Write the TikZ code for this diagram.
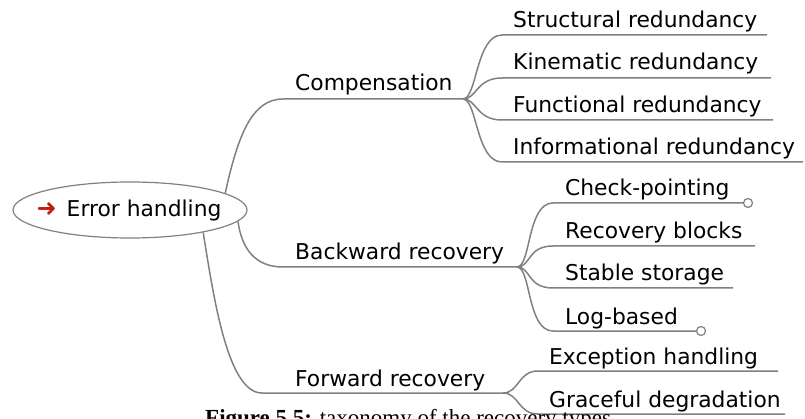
\documentclass[tikz,border=0pt]{standalone}
\usepackage{fontspec}
\setmainfont{DejaVu Sans}
\newfontfamily\captionserif{Liberation Serif}
\usetikzlibrary{shapes.geometric,calc,backgrounds}
\definecolor{branchgray}{HTML}{808080}
\definecolor{arrowred}{HTML}{BE1E14}

\begin{document}
\begin{tikzpicture}[x=1pt,y=-1pt,
  every node/.style={font=\fontsize{21.8}{26}\selectfont, inner sep=0pt, text=black},
  topic/.style={anchor=base west},
  link/.style={draw=branchgray, line width=1.5pt},
  rootbox/.style={ellipse, draw=branchgray, line width=1.2pt, fill=white,
    minimum width=234pt, minimum height=56pt},
  endmark/.style={circle, draw=branchgray, fill=white, line width=1.2pt,
    minimum size=9pt}]
\useasboundingbox (0,0) rectangle (805,419);

% ---------- root: outline and label ----------
\node[rootbox] (root) at (130,210) {};
\node (roottext) at (129,210) {{\color{arrowred}\fontsize{24}{26}\selectfont ➜}\hspace{10pt}Error handling};

% ---------- main branches ----------
\node[topic] (comp) at (295,91) {Compensation};
\node[topic] (back) at (295,260) {Backward recovery};
\node[topic] (fwd)  at (295,386) {Forward recovery};

\coordinate (compIn)  at (283,99);
\coordinate (backIn)  at (283,267);
\coordinate (fwdIn)   at (262,393);
\coordinate (compOut) at (463,99);
\coordinate (backOut) at (517,267);
\coordinate (fwdOut)  at (503,393);

% ---------- leaves ----------
\node[topic] (struct) at (513,28)  {Structural redundancy};
\node[topic] (kine)   at (513,70)  {Kinematic redundancy};
\node[topic] (func)   at (513,113) {Functional redundancy};
\node[topic] (info)   at (513,155) {Informational redundancy};

\node[topic] (check)  at (565,196) {Check-pointing};
\node[topic] (rblock) at (565,239) {Recovery blocks};
\node[topic] (stable) at (565,281) {Stable storage};
\node[topic] (logb)   at (565,324) {Log-based};

\node[topic] (exc)    at (549,364) {Exception handling};
\node[topic] (grace)  at (549,407) {Graceful degradation};

\coordinate (structIn) at (502,35);
\coordinate (kineIn)   at (502,78);
\coordinate (funcIn)   at (502,120);
\coordinate (infoIn)   at (502,162);
\coordinate (checkIn)  at (553,203);
\coordinate (rblockIn) at (553,246);
\coordinate (stableIn) at (553,288);
\coordinate (logbIn)   at (553,331);
\coordinate (excIn)    at (538,371);
\coordinate (graceIn)  at (538,414);

% connectors from the root to the main branches, behind the root outline
\begin{scope}[on background layer]
  \draw[link] (root.10) .. controls (238,135) and (252,99) .. (compIn) -- (compOut);
  \draw[link] (root.-6) .. controls (242,250) and (256,267) .. (backIn) -- (backOut);
  \draw[link] (root.-17) .. controls (214,300) and (228,393) .. (fwdIn) -- (fwdOut);
\end{scope}

% connectors from the branches to the leaves
\foreach \leaf/\stop in {struct/767, kine/771, func/773, info/803}
  \draw[link] (compOut) .. controls +(14,0) and +(-26,0) .. (\leaf In) -- (\stop,0 |- \leaf In);
\foreach \leaf/\stop in {check/744, rblock/755, stable/733, logb/697}
  \draw[link] (backOut) .. controls +(14,0) and +(-26,0) .. (\leaf In) -- (\stop,0 |- \leaf In);
\foreach \leaf/\stop in {exc/778, grace/785}
  \draw[link] (fwdOut) .. controls +(16,0) and +(-20,0) .. (\leaf In) -- (\stop,0 |- \leaf In);

% open end markers
\node[endmark] (checkEnd) at (748,203) {};
\node[endmark] (logbEnd)  at (701,331) {};

% caption, cut off by the lower edge
\begin{scope}
  \clip (0,0) rectangle (805,419);
  \node[anchor=base west, font=\captionserif\fontsize{23}{27}\selectfont] (caption) at (205,425)
    {\textbf{Figure 5.5:} taxonomy of the recovery types};
\end{scope}
\end{tikzpicture}
\end{document}
